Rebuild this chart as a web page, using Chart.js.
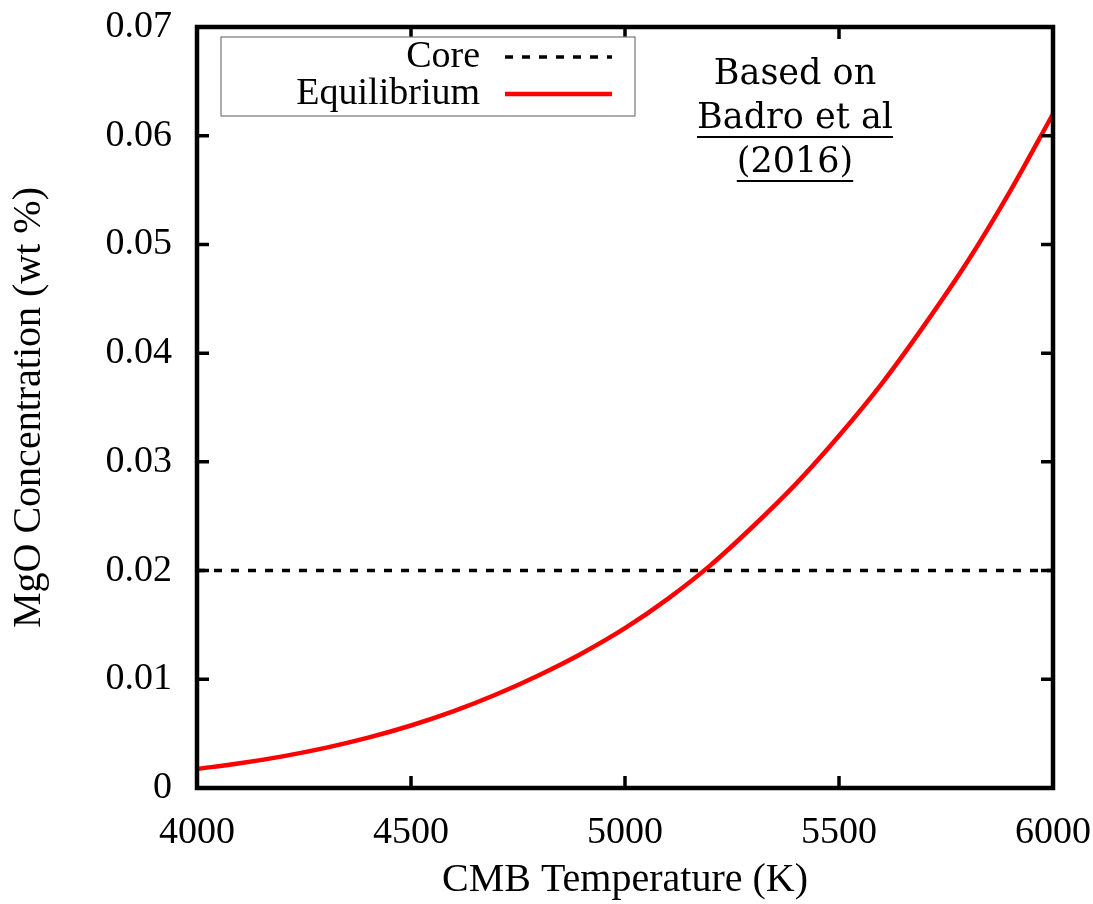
<!DOCTYPE html>
<html>
<head>
<meta charset="utf-8">
<script src="https://cdn.jsdelivr.net/npm/chart.js@4.4.1/dist/chart.umd.min.js"></script>
<style>
  html, body { margin: 0; padding: 0; background: #fff; }
  #wrap { width: 1093px; height: 904px; }
</style>
</head>
<body>
<div id="wrap"><canvas id="mgoChart"></canvas></div>
<script>
// CMB temperature (K) and equilibrium MgO concentration (wt %)
const temps = [4000, 4100, 4200, 4300, 4400, 4500, 4600, 4700, 4800, 4900, 5000,
               5100, 5200, 5300, 5400, 5500, 5600, 5700, 5800, 5900, 6000];
const mgoEquilibrium = [0.00175, 0.00227, 0.00291, 0.00369, 0.00463, 0.00575, 0.00707, 0.00862, 0.0104, 0.0124, 0.0147,
                        0.0174, 0.0205, 0.0241, 0.0280, 0.0324, 0.0372, 0.0426, 0.0484, 0.0549, 0.0620];

// present-day core MgO content
const coreTemps = [4000, 6000];
const mgoCore = [0.02, 0.02];

const xTickLabels = ['4000', '4500', '5000', '5500', '6000'];
const yTickLabels = ['0', '0.01', '0.02', '0.03', '0.04', '0.05', '0.06', '0.07'];
const noteLines = ['Based on', 'Badro et al', '(2016)'];

const serif = 'Liberation Serif';

// inward ticks on all four sides, the heavy frame, legend box and the note
const framePlugin = {
    id: 'frame',
    afterDatasetsDraw(chart) {
        const ctx = chart.ctx;
        const ca = chart.chartArea;
        const xs = chart.scales.x, ys = chart.scales.y;
        ctx.save();
        ctx.strokeStyle = '#000';
        ctx.lineWidth = 3.5;
        const len = 12;
        xs.ticks.forEach(t => {
            const px = xs.getPixelForValue(t.value);
            ctx.beginPath();
            ctx.moveTo(px, ca.bottom); ctx.lineTo(px, ca.bottom - len);
            ctx.moveTo(px, ca.top); ctx.lineTo(px, ca.top + len);
            ctx.stroke();
        });
        ys.ticks.forEach(t => {
            const py = ys.getPixelForValue(t.value);
            ctx.beginPath();
            ctx.moveTo(ca.left, py); ctx.lineTo(ca.left + len, py);
            ctx.moveTo(ca.right, py); ctx.lineTo(ca.right - len, py);
            ctx.stroke();
        });
        ctx.lineWidth = 4.5;
        ctx.strokeRect(ca.left, ca.top, ca.right - ca.left, ca.bottom - ca.top);

        // legend
        const lx = ca.left + 24, ly = ca.top + 10, lw = 414, lh = 79;
        ctx.fillStyle = '#fff';
        ctx.fillRect(lx, ly, lw, lh);
        ctx.lineWidth = 1.2;
        ctx.strokeStyle = '#777';
        ctx.strokeRect(lx, ly, lw, lh);
        ctx.font = '38px "' + serif + '"';
        ctx.textAlign = 'right';
        ctx.textBaseline = 'middle';
        ctx.fillStyle = '#000';
        const rows = [chart.data.datasets[0], chart.data.datasets[1]];
        rows.forEach((ds, i) => {
            const ry = ly + 20 + i * 37;
            ctx.fillText(ds.label, lx + 259, ry);
            ctx.beginPath();
            ctx.strokeStyle = ds.borderColor;
            ctx.lineWidth = ds.borderWidth;
            ctx.setLineDash(ds.borderDash || []);
            ctx.moveTo(lx + 284, ry);
            ctx.lineTo(lx + 391, ry);
            ctx.stroke();
        });
        ctx.setLineDash([]);

        // note in the upper right
        const cx = 795;
        ctx.font = '35px "DejaVu Serif"';
        ctx.textAlign = 'center';
        ctx.textBaseline = 'middle';
        ctx.fillStyle = '#000';
        ctx.strokeStyle = '#000';
        ctx.lineWidth = 2;
        noteLines.forEach((s, i) => {
            const ny = 75 + i * 44;
            ctx.fillText(s, cx, ny);
            if (i > 0) {
                const w = ctx.measureText(s).width;
                ctx.beginPath();
                ctx.moveTo(cx - w / 2, ny + 18);
                ctx.lineTo(cx + w / 2, ny + 18);
                ctx.stroke();
            }
        });
        ctx.restore();
    }
};

new Chart(document.getElementById('mgoChart'), {
    type: 'line',
    data: {
        datasets: [{
            label: 'Core',
            data: coreTemps.map((t, i) => ({ x: t, y: mgoCore[i] })),
            borderColor: '#000',
            borderWidth: 3.5,
            borderDash: [8, 9],
            pointRadius: 0,
            order: 2
        }, {
            label: 'Equilibrium',
            data: temps.map((t, i) => ({ x: t, y: mgoEquilibrium[i] })),
            borderColor: '#ff0000',
            borderWidth: 4.5,
            pointRadius: 0,
            cubicInterpolationMode: 'monotone',
            order: 1
        }]
    },
    options: {
        responsive: true,
        maintainAspectRatio: false,
        animation: false,
        layout: { padding: { top: 27, right: 40, left: 0, bottom: 0 } },
        plugins: {
            legend: { display: false },
            tooltip: { enabled: false }
        },
        scales: {
            x: {
                type: 'linear',
                min: 4000,
                max: 6000,
                grid: { display: false },
                border: { display: false },
                ticks: {
                    stepSize: 500,
                    color: '#000',
                    padding: 14,
                    maxRotation: 0,
                    font: { family: serif, size: 38 },
                    callback: (v, i) => xTickLabels[i]
                },
                title: {
                    display: true,
                    text: 'CMB Temperature (K)',
                    color: '#000',
                    font: { family: serif, size: 40 },
                    padding: { top: 0, bottom: 0 }
                },
                afterFit: s => {
                    s.height = 116;
                    s.paddingLeft = 0;
                    s.paddingRight = 0;
                }
            },
            y: {
                min: 0,
                max: 0.07,
                grid: { display: false },
                border: { display: false },
                ticks: {
                    stepSize: 0.01,
                    color: '#000',
                    padding: 17,
                    font: { family: serif, size: 38 },
                    callback: (v, i) => yTickLabels[i]
                },
                title: {
                    display: true,
                    text: 'MgO Concentration (wt %)',
                    color: '#000',
                    font: { family: serif, size: 40 },
                    padding: { top: 5, bottom: 0 }
                },
                afterFit: s => {
                    s.width = 197;
                    s.paddingTop = 0;
                    s.paddingBottom = 0;
                }
            }
        }
    },
    plugins: [framePlugin]
});
</script>
</body>
</html>
